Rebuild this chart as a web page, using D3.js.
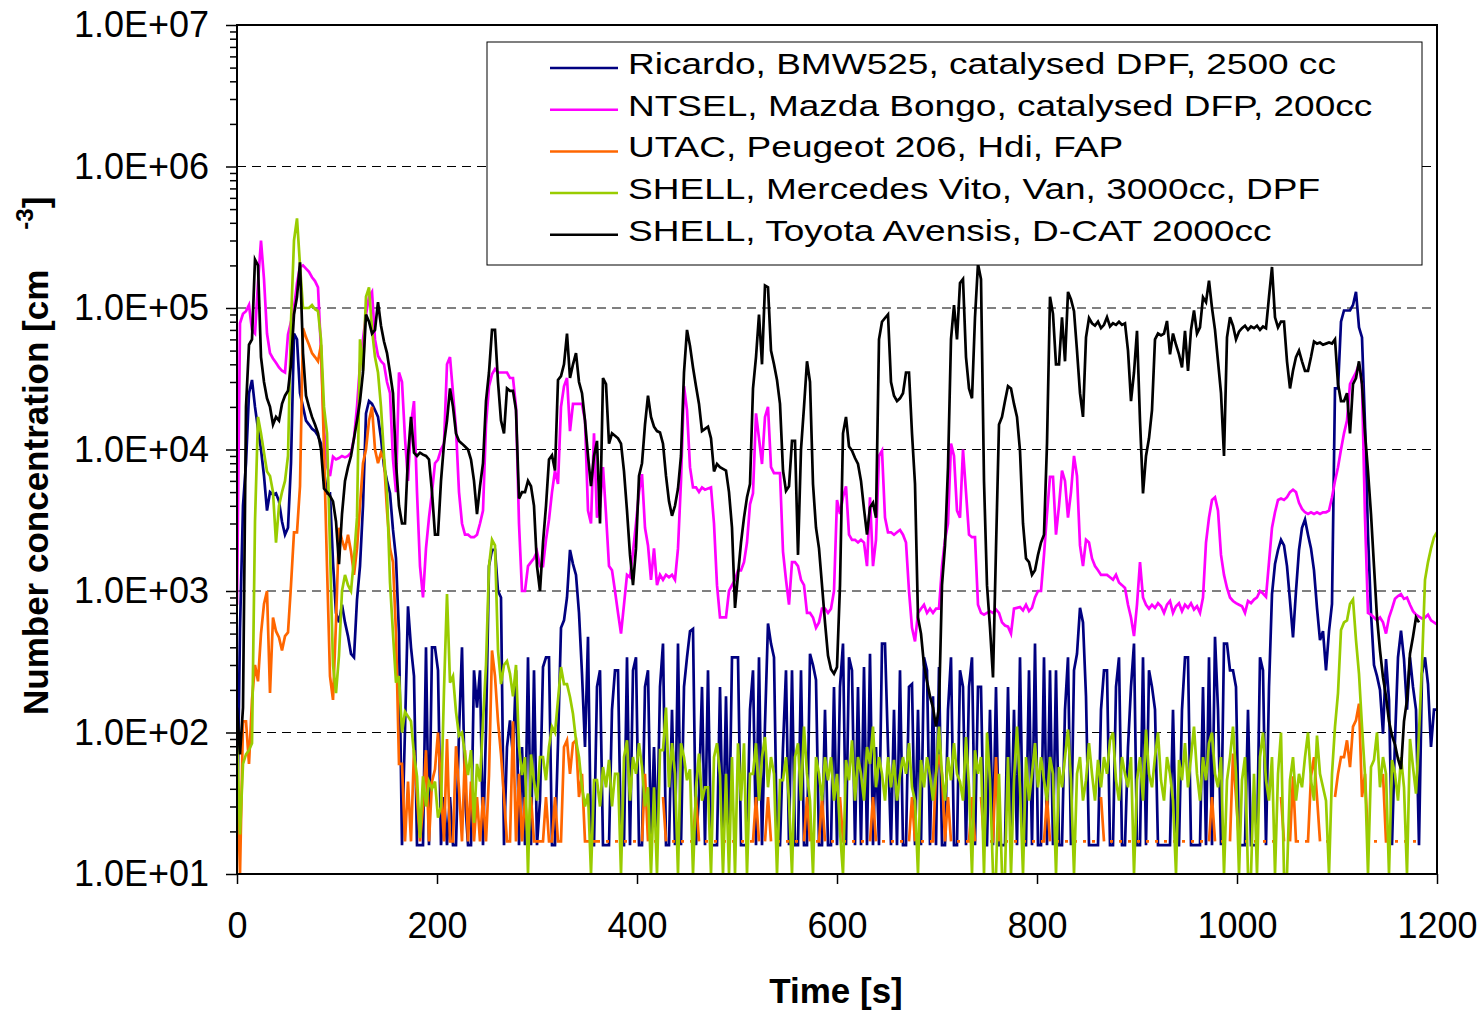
<!DOCTYPE html>
<html>
<head>
<meta charset="utf-8">
<script src="https://cdn.jsdelivr.net/npm/d3@7"></script>
<style>
  body { margin: 0; background: #fff; }
  svg  { display: block; }
  text { font-family: "Liberation Sans", Arial, sans-serif; fill: #000; }
</style>
</head>
<body>
<svg id="chart" width="1482" height="1011"></svg>
<script>
// Particle number concentration over the test cycle, five vehicles.
// Every series is sampled every STEP seconds starting at t = 0.
// A 0 in the UTAC series means "no reading" (the line is broken there).

const STEP = 3;

// Ricardo, BMW525, catalysed DPF, 2500 cc
const ricardo = [
  17, 540, 4000, 8000, 25000, 31000, 20000, 14000, 10000, 6500,
  3700, 5000, 4800, 4900, 4300, 3100, 2500, 2800, 8000, 66000,
  60000, 25000, 20000, 16000, 15000, 14000, 13500, 12500, 11000, 7000,
  4900, 4900, 1600, 700, 600, 800, 600, 480, 360, 340,
  870, 1500, 4000, 18000, 22000, 21000, 19000, 17000, 12000, 7600,
  6000, 4900, 2700, 1700, 500, 16, 105, 780, 400, 250,
  16, 16, 16, 400, 16, 400, 400, 275, 16, 35,
  16, 35, 16, 16, 100, 400, 35, 16, 16, 275,
  150, 275, 16, 105, 1500, 1950, 1950, 1000, 900, 16,
  79, 122, 67, 275, 16, 79, 16, 340, 16, 275,
  16, 33, 290, 340, 340, 16, 16, 84, 550, 620,
  900, 1950, 1550, 1300, 700, 260, 79, 475, 16, 16,
  210, 275, 16, 16, 16, 145, 275, 275, 16, 16,
  340, 16, 275, 340, 16, 16, 210, 275, 16, 79,
  16, 210, 425, 16, 16, 145, 16, 425, 16, 210,
  340, 520, 540, 16, 37, 210, 16, 275, 16, 16,
  16, 210, 16, 180, 16, 340, 340, 340, 16, 16,
  16, 145, 275, 16, 340, 16, 115, 590, 425, 340,
  16, 16, 79, 275, 16, 275, 16, 16, 275, 16,
  16, 360, 300, 235, 16, 16, 145, 16, 16, 210,
  16, 210, 425, 16, 340, 275, 16, 210, 16, 290,
  16, 360, 16, 79, 16, 425, 425, 79, 16, 145,
  16, 275, 16, 16, 210, 220, 16, 145, 16, 340,
  275, 16, 180, 16, 290, 16, 16, 145, 340, 16,
  16, 275, 210, 16, 210, 340, 16, 210, 210, 16,
  16, 145, 16, 210, 16, 16, 16, 210, 16, 145,
  16, 340, 16, 16, 275, 16, 425, 16, 16, 340,
  16, 275, 16, 275, 16, 16, 145, 340, 16, 275,
  360, 760, 600, 180, 16, 16, 16, 16, 145, 275,
  275, 16, 16, 210, 340, 16, 16, 79, 210, 425,
  16, 16, 340, 16, 275, 210, 145, 16, 16, 16,
  16, 16, 145, 16, 16, 145, 340, 340, 16, 16,
  16, 16, 210, 16, 340, 16, 475, 145, 16, 425,
  425, 275, 275, 210, 16, 16, 16, 145, 16, 16,
  16, 340, 275, 16, 210, 950, 1550, 1950, 2300, 2100,
  1500, 850, 470, 1000, 1950, 2800, 3200, 2500, 2000, 1400,
  760, 450, 520, 275, 520, 810, 27000, 27000, 80000, 96000,
  96000, 96000, 105000, 130000, 73000, 62000, 15000, 2500, 700, 300,
  250, 200, 98, 330, 170, 16, 88, 340, 525, 330,
  145, 340, 210, 145, 16, 260, 340, 220, 79, 145, 145
];

// NTSEL, Mazda Bongo, catalysed DFP, 200cc
const ntsel = [
  800, 78000, 91000, 95000, 105000, 70000, 66000, 150000, 300000, 160000,
  66000, 48000, 44000, 41000, 38000, 36000, 35000, 65000, 80000, 100000,
  150000, 195000, 200000, 190000, 180000, 165000, 155000, 140000, 50000, 14000,
  7600, 6500, 8900, 8500, 8700, 9000, 8800, 9000, 9500, 12000,
  20000, 40000, 60000, 90000, 120000, 130000, 60000, 46000, 42000, 40000,
  30000, 25000, 8500, 5000, 35000, 30000, 12000, 6000, 15000, 22000,
  5000, 1500, 900, 2000, 3300, 5000, 8000, 8500, 10000, 11000,
  40000, 45000, 25000, 14000, 5000, 3000, 2500, 2500, 2400, 2400,
  2500, 3000, 3700, 15000, 28000, 34000, 37000, 35000, 35000, 35000,
  35000, 32000, 32000, 20000, 3000, 1000, 1000, 1500, 1600, 1700,
  1900, 1500, 1500, 2300, 3200, 5000, 7100, 5700, 20000, 28000,
  32000, 13500, 21000, 21000, 21000, 21000, 16000, 3700, 3000, 13000,
  3300, 3900, 7500, 3500, 1500, 1400, 1000, 700, 500, 800,
  1300, 1250, 1900, 3000, 5000, 6700, 2800, 2100, 1200, 2000,
  1100, 1300, 1200, 1300, 1250, 1300, 1200, 2000, 6000, 28000,
  19000, 7500, 5400, 5400, 5000, 5400, 5200, 5300, 5400, 3000,
  1100, 650, 650, 650, 1000, 1100, 1200, 1400, 1400, 1600,
  2200, 4100, 4900, 18000, 12000, 7900, 17000, 20000, 7500, 6800,
  6800, 6800, 1900, 1200, 800, 1600, 1600, 1500, 1200, 1100,
  700, 700, 650, 550, 600, 750, 750, 700, 750, 1000,
  4400, 3500, 4600, 5500, 2500, 2300, 2300, 2200, 2300, 2200,
  1500, 4600, 1500, 2300, 9000, 9800, 3300, 2600, 2600, 2500,
  2600, 2700, 2500, 2200, 1000, 550, 440, 700, 750, 800,
  700, 750, 700, 750, 750, 1500, 2300, 3000, 11000, 9000,
  3700, 3300, 10000, 5000, 2500, 2400, 2400, 800, 700, 680,
  700, 720, 700, 740, 700, 600, 570, 560, 500, 750,
  760, 770, 730, 800, 720, 760, 900, 1000, 1000, 1800,
  3500, 6400, 6400, 2500, 4000, 7100, 6000, 3300, 5000, 9000,
  6500, 2100, 1500, 2300, 2200, 1700, 1500, 1400, 1300, 1300,
  1300, 1250, 1200, 1300, 1150, 1100, 1050, 800, 650, 480,
  800, 1600, 900, 800, 750, 800, 760, 820, 780, 700,
  800, 850, 700, 780, 820, 720, 800, 760, 820, 740,
  780, 700, 900, 2200, 3300, 4400, 4600, 3700, 1800, 1300,
  1050, 900, 850, 820, 800, 780, 700, 850, 820, 870,
  900, 1000, 960, 910, 1600, 2800, 3600, 4400, 4500, 4400,
  4600, 5000, 5200, 5000, 4200, 3800, 3600, 3500, 3600, 3500,
  3600, 3500, 3600, 3600, 3700, 4600, 6000, 7500, 10000, 13000,
  16000, 29000, 32000, 35000, 40000, 29000, 3300, 700, 680, 650,
  620, 650, 600, 500, 650, 750, 880, 920, 950, 880,
  900, 800, 720, 680, 660, 640, 650, 680, 620, 600, 580
];

// UTAC, Peugeot 206, Hdi, FAP
const utac = [
  60, 10, 120, 120, 60, 170, 300, 230, 500, 810,
  1000, 190, 650, 520, 470, 380, 480, 510, 1100, 2600,
  2600, 5500, 72000, 62000, 55000, 48000, 45000, 42000, 55000, 10000,
  1500, 250, 170, 600, 2800, 2300, 1950, 2500, 1900, 1300,
  2000, 4000, 8000, 10000, 16000, 20000, 10000, 8000, 9500, 8500,
  3700, 2000, 1600, 500, 60, 60, 17, 45, 17, 75,
  35, 17, 30, 75, 17, 45, 55, 100, 40, 17,
  90, 17, 17, 80, 40, 17, 75, 17, 45, 17,
  35, 17, 35, 17, 50, 380, 250, 120, 70, 35,
  17, 17, 120, 17, 51, 17, 35, 17, 35, 17,
  17, 17, 17, 35, 17, 17, 35, 17, 17, 79,
  88, 51, 84, 88, 35, 51, 17, 17, 17, 17,
  17, 17, 0, 17, 17, 0, 17, 17, 0, 17,
  17, 0, 17, 17, 0, 17, 51, 17, 0, 17,
  17, 0, 35, 17, 0, 17, 17, 0, 17, 17,
  0, 17, 17, 35, 17, 0, 17, 17, 0, 17,
  17, 0, 17, 17, 0, 17, 17, 0, 17, 17,
  0, 17, 17, 35, 17, 0, 17, 35, 17, 0,
  17, 17, 0, 17, 17, 0, 17, 17, 0, 17,
  35, 17, 0, 17, 17, 35, 17, 0, 17, 17,
  0, 35, 17, 17, 0, 17, 17, 0, 17, 17,
  0, 17, 35, 17, 0, 17, 17, 0, 17, 17,
  0, 17, 17, 0, 17, 35, 17, 0, 17, 17,
  0, 17, 17, 51, 70, 51, 17, 35, 17, 0,
  17, 17, 0, 17, 17, 35, 17, 0, 35, 17,
  0, 17, 17, 67, 17, 0, 17, 17, 0, 17,
  17, 0, 17, 17, 0, 17, 17, 0, 17, 17,
  35, 17, 0, 17, 17, 0, 17, 17, 0, 17,
  17, 0, 17, 17, 0, 17, 17, 0, 35, 17,
  0, 17, 17, 0, 17, 17, 0, 17, 17, 0,
  17, 17, 0, 17, 17, 0, 17, 17, 0, 17,
  17, 0, 17, 17, 0, 17, 17, 0, 17, 17,
  0, 17, 17, 0, 17, 35, 17, 0, 17, 17,
  0, 17, 71, 35, 17, 0, 17, 17, 0, 17,
  17, 0, 17, 17, 0, 17, 17, 0, 35, 17,
  0, 17, 49, 17, 17, 0, 17, 17, 49, 67,
  35, 17, 0, 17, 17, 0, 35, 51, 67, 67,
  88, 57, 110, 122, 160, 35, 51, 17, 0, 17,
  17, 0, 51, 17, 17, 0, 17, 17, 0, 17,
  17, 0, 17, 17
];

// SHELL, Mercedes Vito, Van, 3000cc, DPF
const shellVito = [
  95, 19, 60, 70, 75, 84, 3100, 17000, 13000, 9500,
  7000, 6500, 5000, 2200, 4000, 5000, 6000, 9000, 80000, 300000,
  430000, 200000, 100000, 100000, 100000, 105000, 98000, 95000, 60000, 20000,
  13000, 2000, 300, 190, 350, 1000, 1300, 1100, 1000, 1700,
  3300, 60000, 36000, 120000, 140000, 70000, 45000, 35000, 20000, 9000,
  5000, 1150, 500, 225, 250, 100, 140, 130, 120, 70,
  49, 18, 49, 30, 45, 40, 45, 25, 30, 200,
  950, 225, 250, 140, 95, 100, 70, 50, 75, 23,
  60, 45, 120, 300, 1500, 2300, 2100, 380, 220, 300,
  320, 260, 180, 300, 80, 50, 67, 10, 70, 45,
  33, 67, 67, 46, 79, 110, 100, 170, 290, 220,
  220, 178, 135, 88, 67, 41, 30, 37, 10, 46,
  46, 30, 57, 41, 64, 30, 51, 51, 10, 67,
  88, 33, 67, 51, 84, 57, 30, 41, 10, 41,
  10, 75, 75, 150, 41, 84, 51, 10, 84, 67,
  46, 55, 10, 41, 71, 33, 41, 41, 10, 67,
  84, 50, 10, 51, 10, 67, 10, 84, 33, 84,
  10, 51, 51, 84, 33, 67, 93, 41, 67, 51,
  10, 46, 46, 67, 33, 10, 67, 84, 33, 110,
  51, 33, 10, 67, 51, 33, 67, 46, 67, 33,
  51, 20, 10, 64, 46, 88, 33, 67, 51, 33,
  79, 60, 110, 41, 67, 51, 33, 67, 41, 64,
  33, 50, 67, 51, 84, 41, 33, 10, 64, 41,
  67, 50, 33, 51, 110, 51, 33, 67, 46, 84,
  51, 45, 33, 93, 41, 10, 75, 51, 67, 10,
  100, 46, 10, 10, 51, 10, 10, 67, 10, 46,
  110, 41, 10, 67, 33, 51, 84, 41, 67, 46,
  33, 67, 51, 10, 57, 41, 67, 105, 46, 10,
  51, 67, 33, 46, 84, 51, 33, 64, 41, 67,
  51, 88, 100, 46, 33, 67, 51, 41, 67, 10,
  46, 67, 33, 105, 51, 41, 67, 100, 46, 33,
  67, 51, 33, 10, 64, 46, 84, 41, 67, 110,
  51, 33, 67, 46, 84, 100, 51, 41, 67, 10,
  46, 67, 110, 51, 10, 46, 67, 10, 10, 51,
  10, 67, 100, 46, 33, 67, 10, 51, 100, 10,
  10, 46, 67, 33, 51, 41, 67, 100, 46, 33,
  95, 51, 41, 33, 10, 51, 110, 190, 530, 600,
  620, 810, 870, 450, 260, 110, 50, 10, 57, 64,
  100, 41, 67, 51, 10, 64, 51, 33, 67, 41,
  10, 90, 57, 37, 100, 300, 1200, 1600, 2000, 2400, 2600
];

// SHELL, Toyota Avensis, D-CAT 2000cc
const shellToyota = [
  150, 70, 150, 20000, 55000, 60000, 220000, 200000, 45000, 30000,
  23000, 20000, 15000, 17000, 16000, 21000, 24000, 26000, 40000, 90000,
  120000, 210000, 48000, 24000, 20000, 17000, 15000, 13000, 10000, 5300,
  5000, 4700, 4300, 3100, 1550, 3500, 6000, 7500, 9000, 12000,
  16000, 22000, 35000, 90000, 80000, 66000, 70000, 110000, 75000, 58000,
  48000, 35000, 25000, 8000, 4000, 3000, 3000, 9000, 17000, 9500,
  9000, 9500, 9200, 9000, 8500, 5000, 2500, 2500, 6000, 11000,
  16000, 27000, 20000, 13000, 11500, 11000, 10500, 10000, 8500, 6000,
  3500, 5500, 8000, 22000, 35000, 70000, 70000, 30000, 16000, 13000,
  27000, 26000, 26000, 19000, 4500, 5000, 5000, 6000, 5500, 4000,
  1500, 1000, 2200, 4000, 8500, 9100, 7100, 31000, 33000, 40000,
  66000, 32000, 40000, 48000, 30000, 25000, 16000, 9000, 5500, 9000,
  11500, 3000, 32000, 29000, 11000, 13000, 12500, 12000, 11000, 7000,
  3700, 1800, 1100, 2000, 6500, 8000, 15000, 24000, 17000, 14500,
  13500, 13200, 11000, 6500, 4300, 3400, 4000, 5300, 9000, 35000,
  70000, 54000, 38000, 28000, 21000, 13500, 14000, 14500, 12000, 7000,
  7900, 7500, 7300, 7100, 5000, 2800, 760, 1300, 2200, 3300,
  4600, 5700, 27000, 45000, 90000, 40000, 144000, 140000, 50000, 40000,
  31000, 21000, 7100, 5100, 5500, 11500, 11500, 1800, 10000, 20000,
  42000, 30000, 5700, 2800, 2000, 1100, 600, 350, 280, 260,
  290, 1100, 13000, 17000, 10500, 9800, 8700, 7900, 6000, 3800,
  2500, 3900, 4200, 3300, 60000, 80000, 85000, 90000, 30000, 24000,
  22000, 23000, 25000, 35000, 35000, 13000, 5700, 650, 500, 300,
  230, 180, 150, 110, 150, 1100, 2100, 7500, 60000, 105000,
  60000, 150000, 160000, 45000, 27000, 23000, 86000, 205000, 160000, 6000,
  1100, 550, 245, 2000, 15000, 17000, 22000, 28000, 27000, 21000,
  17000, 9800, 3000, 1700, 1600, 1300, 1400, 1800, 2200, 2500,
  11000, 120000, 91000, 40000, 40000, 86000, 42000, 130000, 115000, 95000,
  50000, 25000, 17000, 62000, 85000, 78000, 75000, 80000, 72000, 76000,
  86000, 74000, 78000, 76000, 80000, 76000, 78000, 50000, 22000, 35000,
  69000, 16000, 4900, 9000, 12000, 19000, 60000, 66000, 64000, 66000,
  81000, 47000, 66000, 55000, 47000, 38000, 69000, 36000, 70000, 96000,
  66000, 73000, 119000, 110000, 156000, 100000, 70000, 42000, 25000, 9000,
  62000, 86000, 75000, 60000, 68000, 72000, 75000, 70000, 74000, 72000,
  75000, 70000, 74000, 72000, 120000, 195000, 86000, 73000, 80000, 80000,
  42000, 27000, 36000, 45000, 50000, 42000, 36000, 36000, 45000, 58000,
  56000, 57000, 55000, 56000, 57000, 56000, 60000, 29000, 22000, 22000,
  25000, 13000, 29000, 32000, 42000, 29000, 13000, 7000, 3500, 1500,
  650, 380, 245, 180, 120, 95, 82, 65, 55, 120,
  170, 360, 475, 650, 600
];

const seriesNames = [
  'Ricardo, BMW525, catalysed DPF, 2500 cc',
  'NTSEL, Mazda Bongo, catalysed DFP, 200cc',
  'UTAC, Peugeot 206, Hdi, FAP',
  'SHELL, Mercedes Vito, Van, 3000cc, DPF',
  'SHELL, Toyota Avensis, D-CAT 2000cc'
];
const seriesValues = [ricardo, ntsel, utac, shellVito, shellToyota];
const seriesColors = ['#000080', '#ff00ff', '#ff6600', '#99cc00', '#000000'];

const xTicks      = [0, 200, 400, 600, 800, 1000, 1200];
const yMajorTicks = [1e1, 1e2, 1e3, 1e4, 1e5, 1e6, 1e7];

// ─── Layout ─────────────────────────────────────────────────────────────────

const plot = { left: 237, right: 1437, top: 25, bottom: 874 };
const svg  = d3.select('#chart');

const x = d3.scaleLinear().domain([0, 1200]).range([plot.left, plot.right]);
const y = d3.scaleLog().domain([10, 1e7]).range([plot.bottom, plot.top]);

const yMinorTicks = [];
yMajorTicks.slice(0, -1).forEach(d => {
  for (let m = 2; m <= 9; m++) yMinorTicks.push(d * m);
});

svg.append('rect').attr('width', 1482).attr('height', 1011).attr('fill', '#fff');

// ─── Grid ───────────────────────────────────────────────────────────────────

svg.append('g')
  .selectAll('line')
  .data(yMajorTicks.slice(1, -1))
  .join('line')
  .attr('x1', plot.left).attr('x2', plot.right)
  .attr('y1', d => y(d)).attr('y2', d => y(d))
  .attr('stroke', '#000')
  .attr('stroke-width', 1)
  .attr('stroke-dasharray', '9,6');

// ─── Series ─────────────────────────────────────────────────────────────────

svg.append('clipPath').attr('id', 'plot-clip')
  .append('rect')
  .attr('x', plot.left).attr('y', plot.top)
  .attr('width', plot.right - plot.left).attr('height', plot.bottom - plot.top);

const line = d3.line()
  .defined(d => d[1] > 0)
  .x(d => x(d[0]))
  .y(d => y(Math.max(10, d[1])));

svg.append('g')
  .attr('clip-path', 'url(#plot-clip)')
  .selectAll('path')
  .data(seriesValues.map(vals => vals.map((v, i) => [i * STEP, v])))
  .join('path')
  .attr('d', line)
  .attr('fill', 'none')
  .attr('stroke', (d, i) => seriesColors[i])
  .attr('stroke-width', 2.7)
  .attr('stroke-linejoin', 'miter');

// ─── Axes ───────────────────────────────────────────────────────────────────

const fmtExp = d => `1.0E+${String(Math.round(Math.log10(d))).padStart(2, '0')}`;

const gy = svg.append('g')
  .attr('transform', `translate(${plot.left},0)`)
  .call(d3.axisLeft(y).tickValues(yMajorTicks).tickSize(11).tickPadding(17).tickFormat(fmtExp));

svg.append('g')
  .attr('transform', `translate(${plot.left},0)`)
  .call(d3.axisLeft(y).tickValues(yMinorTicks).tickSize(7).tickFormat(''))
  .select('.domain').remove();

const gx = svg.append('g')
  .attr('transform', `translate(0,${plot.bottom})`)
  .call(d3.axisBottom(x).tickValues(xTicks).tickSize(10).tickPadding(28).tickFormat(d3.format('d')));

[gx, gy].forEach(g => {
  g.select('.domain').remove();
  g.selectAll('text').style('font-size', '36px').attr('fill', '#000');
});
svg.selectAll('.tick line').attr('stroke', '#000').attr('stroke-width', 1.5);

// plot frame
svg.append('rect')
  .attr('x', plot.left).attr('y', plot.top)
  .attr('width', plot.right - plot.left).attr('height', plot.bottom - plot.top)
  .attr('fill', 'none')
  .attr('stroke', '#000')
  .attr('stroke-width', 2);

// ─── Titles ─────────────────────────────────────────────────────────────────

svg.append('text')
  .attr('x', 836).attr('y', 1003)
  .attr('text-anchor', 'middle')
  .style('font-size', '35px').style('font-weight', 'bold')
  .text('Time [s]');

const yTitle = svg.append('text')
  .attr('transform', 'translate(48,715) rotate(-90)')
  .style('font-size', '35px').style('font-weight', 'bold');
yTitle.append('tspan').text('Number concentration [cm');
yTitle.append('tspan').attr('dx', 40).attr('dy', -15).style('font-size', '24px').text('-3');
yTitle.append('tspan').attr('dy', 15).text(']');

// ─── Legend ─────────────────────────────────────────────────────────────────

const legend = svg.append('g');
legend.append('rect')
  .attr('x', 487).attr('y', 42).attr('width', 935).attr('height', 223)
  .attr('fill', '#fff').attr('stroke', '#000').attr('stroke-width', 1);

const rows = legend.selectAll('g.row')
  .data(seriesNames)
  .join('g')
  .attr('class', 'row')
  .attr('transform', (d, i) => `translate(0,${74 + i * 41.7})`);

rows.append('line')
  .attr('x1', 550).attr('x2', 618).attr('y1', -6).attr('y2', -6)
  .attr('stroke', (d, i) => seriesColors[i])
  .attr('stroke-width', 2.5);

// legend lettering is set wide in the original, hence the horizontal stretch
rows.append('text')
  .attr('transform', 'translate(628,0) scale(1.235,1)')
  .style('font-size', '30px')
  .text(d => d);
</script>
</body>
</html>
